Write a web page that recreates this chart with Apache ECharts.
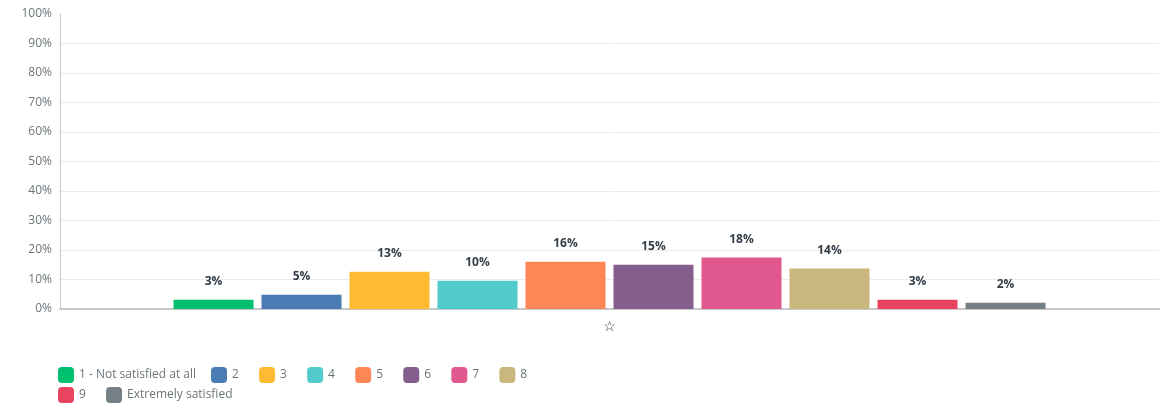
<!DOCTYPE html>
<html>
<head>
<meta charset="utf-8">
<script src="https://cdn.jsdelivr.net/npm/echarts@6/dist/echarts.min.js"></script>
<style>html,body{margin:0;padding:0;background:#fff}#c{width:1162px;height:410px}</style>
</head>
<body>
<div id="c"></div>
<script>
const categories = ['☆'];
const seriesNames = ['1 - Not satisfied at all', '2', '3', '4', '5', '6', '7', '8', '9', 'Extremely satisfied'];
const seriesValues = [3.1, 4.8, 12.6, 9.6, 16.0, 15.0, 17.5, 13.7, 3.1, 2.1];
const colors = ['#00bf6f', '#4a7bb2', '#ffba33', '#51cbcc', '#ff8656', '#845e8d', '#e0588e', '#c9b77d', '#ea4360', '#748086'];
const yTicks = [0, 10, 20, 30, 40, 50, 60, 70, 80, 90, 100];

const font = '"Open Sans", sans-serif';
const textColor = '#6b7479';
function legendPart(names, left, top, gap) {
  return {
    left: left, top: top, padding: 0,
    itemWidth: 16, itemHeight: 16, itemGap: gap,
    icon: 'roundRect',
    textStyle: {color: textColor, fontSize: 12, fontFamily: font},
    data: names
  };
}
const chart = echarts.init(document.getElementById('c'), null, {renderer: 'canvas'});
chart.setOption({
  animation: false,
  color: colors,
  grid: {left: 60, right: 3, top: 14, bottom: 101, containLabel: false},
  legend: [
    legendPart(seriesNames.slice(0, 1), 58, 367, 15),
    legendPart(seriesNames.slice(1, 8), 211, 367, 20.2),
    legendPart(seriesNames.slice(8), 58, 387, 20.2)
  ],
  xAxis: {
    type: 'category',
    data: categories,
    axisLine: {lineStyle: {color: '#c8c8c8', width: 2}},
    axisTick: {show: false},
    axisLabel: {color: '#2b343c', fontSize: 14, fontWeight: 'bold', margin: 11, fontFamily: 'DejaVu Sans'}
  },
  yAxis: {
    type: 'value',
    min: yTicks[0], max: yTicks[yTicks.length - 1], interval: 10,
    axisLine: {show: true, lineStyle: {color: '#c8c8c8'}},
    axisTick: {show: false},
    splitLine: {lineStyle: {color: yTicks.map((t, i) => i === yTicks.length - 1 ? 'rgba(0,0,0,0)' : '#ebebeb')}},
    axisLabel: {color: textColor, fontSize: 12, fontFamily: font, margin: 8, formatter: v => v + '%'}
  },
  series: seriesNames.map((name, i) => ({
    name: name,
    type: 'bar',
    barWidth: 80,
    barGap: '10%',
    data: [seriesValues[i]],
    label: {
      show: true, position: 'top', distance: 12,
      color: '#333e48', fontSize: 12, fontWeight: 'bold', fontFamily: font,
      formatter: p => Math.round(p.value) + '%'
    }
  }))
});
</script>
</body>
</html>
